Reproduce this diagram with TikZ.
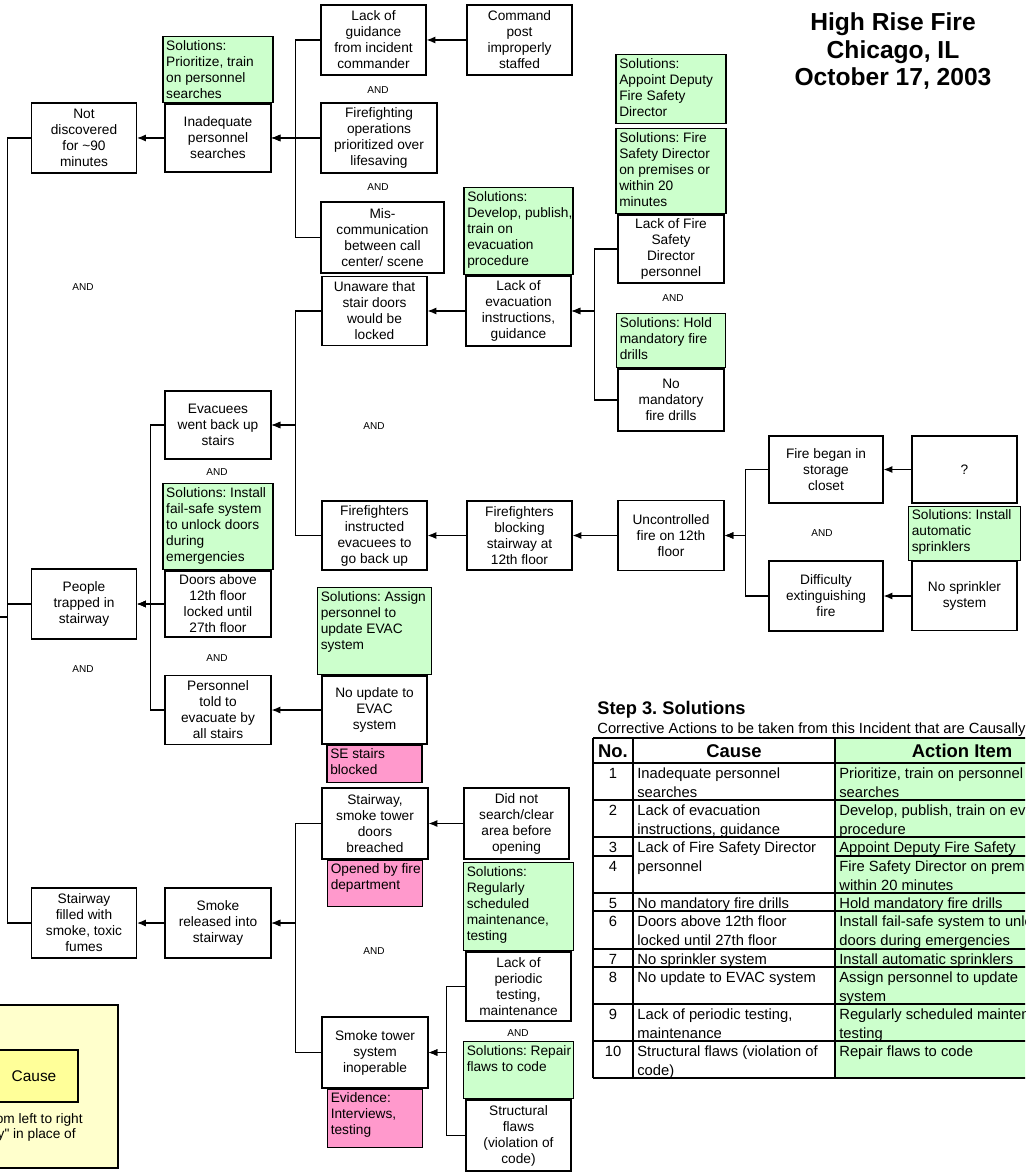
\documentclass[tikz,border=0pt]{standalone}
\usepackage{fontspec}
\setmainfont{Liberation Sans}
\usetikzlibrary{positioning,arrows.meta}
\definecolor{solGreen}{HTML}{CCFFCC}
\definecolor{evidPink}{HTML}{FF99CC}
\definecolor{legendPale}{HTML}{FFFFCC}
\definecolor{legendYellow}{HTML}{FFFF99}
\newcommand{\boxfont}{\fontsize{7.8}{9.1}\selectfont}
\newcommand{\tabfont}{\fontsize{8.4}{10.3}\selectfont}
\newcommand{\andfont}{\fontsize{5.7}{6.5}\selectfont}
\frenchspacing

\begin{document}
\begin{tikzpicture}
[x=0.02cm,y=-0.02cm,
  causeArrow/.style={->,>={Latex[length=5pt,width=4pt]},line width=0.6pt},%
  busLine/.style={line width=0.6pt},%
  causeBox/.style={shape=rectangle,draw,line width=0.7pt,fill=white,align=center,inner sep=1pt,font=\boxfont},%
  solBox/.style={shape=rectangle,draw,line width=0.7pt,fill=solGreen,inner sep=0pt},%
  evidBox/.style={solBox,fill=evidPink},%
  solText/.style={anchor=north west,align=left,inner xsep=0.07cm,inner ysep=0.08cm,font=\boxfont},%
  andLabel/.style={font=\andfont,inner sep=0pt},%
  tabText/.style={anchor=base west,font=\tabfont,inner sep=0pt},%
  tabHead/.style={font=\bfseries\fontsize{10.5}{12}\selectfont,inner sep=0pt},%
  tabRule/.style={line width=0.6pt}]
\useasboundingbox (0,0) rectangle (1025,1175);
\clip (0,0) rectangle (1025,1175);

%% cause boxes
\foreach \nodename/\x/\y/\w/\h/\txt in {
  notdisc/84/138/2.1/1.4/{Not\\discovered\\for \textasciitilde 90\\minutes},
  inadeq/218/138/2.12/1.36/{Inadequate\\personnel\\searches},
  lackguid/373.5/40/2.1/1.4/{Lack of\\guidance\\from incident\\commander},
  cmdpost/519.5/40/2.1/1.4/{Command\\post\\improperly\\staffed},
  ffops/379/138/2.32/1.4/{Firefighting\\operations\\prioritized over\\lifesaving},
  miscomm/382.5/237.5/2.46/1.42/{Mis-\\communication\\between call\\center/ scene},
  unaware/374.5/311/2.1/1.38/{Unaware that\\stair doors\\would be\\locked},
  lackevac/518.5/311/2.1/1.4/{Lack of\\evacuation\\instructions,\\guidance},
  lackfsd/671/249/2.12/1.36/{Lack of Fire\\Safety\\Director\\personnel},
  nodrills/671/400/2.12/1.24/{No\\mandatory\\fire drills},
  evacback/218/425/2.12/1.36/{Evacuees\\went back up\\stairs},
  ffinstr/374.5/535.5/2.1/1.38/{Firefighters\\instructed\\evacuees to\\go back up},
  ffblock/519.5/535.5/2.1/1.38/{Firefighters\\blocking\\stairway at\\12th floor},
  uncontr/671/535.5/2.12/1.4/{Uncontrolled\\fire on 12th\\floor},
  firebegan/826/469.5/2.28/1.34/{Fire began in\\storage\\closet},
  question/964.5/469.5/2.1/1.34/{?},
  difficulty/826/596/2.28/1.4/{Difficulty\\extinguishing\\fire},
  nosprink/964.5/596/2.1/1.38/{No sprinkler\\system},
  doors/218/604/2.12/1.32/{Doors above\\12th floor\\locked until\\27th floor},
  trapped/84/604/2.1/1.4/{People\\trapped in\\stairway},
  personnel/218/710/2.12/1.38/{Personnel\\told to\\evacuate by\\all stairs},
  noupdate/374.5/710/2.1/1.36/{No update to\\EVAC\\system},
  breached/375/823.5/2.12/1.42/{Stairway,\\smoke tower\\doors\\breached},
  didnot/516.5/823.5/2.1/1.42/{Did not\\search/clear\\area before\\opening},
  smokerel/218/923/2.12/1.4/{Smoke\\released into\\stairway},
  stairfill/84/923/2.1/1.4/{Stairway\\filled with\\smoke, toxic\\fumes},
  towerinop/375/1052.5/2.12/1.42/{Smoke tower\\system\\inoperable},
  periodic/518.5/986.5/2.1/1.38/{Lack of\\periodic\\testing,\\maintenance},
  structural/518.5/1135.5/2.1/1.42/{Structural\\flaws\\(violation of\\code)}}
{
  \node[causeBox,minimum width=\w cm,minimum height=\h cm] (\nodename) at (\x,\y) {\txt};
}
\coordinate (topevent) at (0,617);

%% solutions and evidence boxes
\node[solBox,minimum width=2.2cm,minimum height=1.32cm,above=0pt of inadeq] (solA) {};
\node[solText] (solAtxt) at (solA.north west) {Solutions:\\Prioritize, train\\on personnel\\searches};
\node[solBox,minimum width=2.18cm,minimum height=1.74cm,above=0pt of lackevac] (solB) {};
\node[solText] (solBtxt) at (solB.north west) {Solutions:\\Develop, publish,\\train on\\evacuation\\procedure};
\node[solBox,minimum width=2.2cm,minimum height=1.7cm,above=0pt of lackfsd] (solD) {};
\node[solText] (solDtxt) at (solD.north west) {Solutions: Fire\\Safety Director\\on premises or\\within 20\\minutes};
\node[solBox,minimum width=2.2cm,minimum height=1.38cm,above=0.08cm of solD] (solC) {};
\node[solText] (solCtxt) at (solC.north west) {Solutions:\\Appoint Deputy\\Fire Safety\\Director};
\node[solBox,minimum width=2.18cm,minimum height=1.08cm,above=0pt of nodrills] (solE) {};
\node[solText] (solEtxt) at (solE.north west) {Solutions: Hold\\mandatory fire\\drills};
\node[solBox,minimum width=2.2cm,minimum height=1.72cm,above=0pt of doors] (solF) {};
\node[solText] (solFtxt) at (solF.north west) {Solutions: Install\\fail-safe system\\to unlock doors\\during\\emergencies};
\node[solBox,minimum width=2.24cm,minimum height=1.08cm,above=0pt of nosprink] (solG) {};
\node[solText] (solGtxt) at (solG.north west) {Solutions: Install\\automatic\\sprinklers};
\node[solBox,minimum width=2.28cm,minimum height=1.74cm,above=0pt of noupdate] (solH) {};
\node[solText] (solHtxt) at (solH.north west) {Solutions: Assign\\personnel to\\update EVAC\\system};
\node[solBox,minimum width=2.2cm,minimum height=1.76cm,above=0pt of periodic] (solI) {};
\node[solText] (solItxt) at (solI.north west) {Solutions:\\Regularly\\scheduled\\maintenance,\\testing};
\node[solBox,minimum width=2.2cm,minimum height=1.14cm,above=0pt of structural] (solJ) {};
\node[solText] (solJtxt) at (solJ.north west) {Solutions: Repair\\flaws to code};
\node[evidBox,minimum width=1.9cm,minimum height=0.74cm,below=0pt of noupdate] (evSE) {};
\node[solText] (evSEtxt) at (evSE.north west) {SE stairs\\blocked};
\node[evidBox,minimum width=1.9cm,minimum height=0.92cm,below=0pt of breached] (evOpen) {};
\node[solText] (evOpentxt) at (evOpen.north west) {Opened by fire\\department};
\node[evidBox,minimum width=1.9cm,minimum height=1.16cm,below=0pt of towerinop] (evTest) {};
\node[solText] (evTesttxt) at (evTest.north west) {Evidence:\\Interviews,\\testing};

%% AND gates
\foreach \x/\y [count=\i] in {83/287, 378/90, 378/187, 673/298, 374/426, 217/472,
  217/658, 83/669, 822/533, 374/951, 518/1033}
{
  \node[andLabel] (and\i) at (\x,\y) {AND};
}

%% connectors
\draw[causeArrow] (cmdpost) -- (lackguid);
\foreach \kid in {lackguid,ffops,miscomm}
  \draw[causeArrow] (\kid.west) -- ++(-25,0) |- (inadeq.east);
\draw[causeArrow] (inadeq) -- (notdisc);
\foreach \kid in {lackfsd,nodrills}
  \draw[causeArrow] (\kid.west) -- ++(-23,0) |- (lackevac.east);
\draw[causeArrow] (lackevac) -- (unaware);
\draw[causeArrow] (question) -- (firebegan);
\draw[causeArrow] (nosprink) -- (difficulty);
\foreach \kid in {firebegan,difficulty}
  \draw[causeArrow] (\kid.west) -- ++(-23,0) |- (uncontr.east);
\draw[causeArrow] (uncontr) -- (ffblock);
\draw[causeArrow] (ffblock) -- (ffinstr);
\foreach \kid in {unaware,ffinstr}
  \draw[causeArrow] (\kid.west) -- ++(-26,0) |- (evacback.east);
\draw[causeArrow] (noupdate) -- (personnel);
\foreach \kid in {evacback,doors,personnel}
  \draw[causeArrow] (\kid.west) -- ++(-14,0) |- (trapped.east);
\draw[causeArrow] (didnot) -- (breached);
\foreach \kid in {periodic,structural}
  \draw[causeArrow] (\kid.west) -- ++(-19,0) |- (towerinop.east);
\foreach \kid in {breached,towerinop}
  \draw[causeArrow] (\kid.west) -- ++(-26,0) |- (smokerel.east);
\draw[causeArrow] (smokerel) -- (stairfill);
\foreach \kid in {notdisc,trapped,stairfill}
  \draw[busLine] (\kid.west) -- ++(-23.5,0) |- (topevent);

%% title
\node[align=center,inner sep=0pt,font=\bfseries\fontsize{14}{15.9}\selectfont] (title) at (893,51)
  {High Rise Fire\\Chicago, IL\\October 17, 2003};

%% legend
\draw[line width=0.8pt,fill=legendPale] (-2,1005) rectangle (118,1168);
\draw[line width=0.8pt,fill=legendYellow] (-2,1050) rectangle (78,1102);
\node[inner sep=0pt,font=\fontsize{8.8}{10}\selectfont] (legCause) at (34,1076) {Cause};
\node[anchor=base east,inner sep=0pt,font=\boxfont] (legLineA) at (83,1123) {om left to right};
\node[anchor=base east,inner sep=0pt,font=\boxfont] (legLineB) at (76,1138) {y\textquotedbl{} in place of};

%% solutions table
\node[anchor=base west,inner sep=0pt,font=\bfseries\fontsize{10.4}{12}\selectfont] (stepTitle) at (597,714) {Step 3. Solutions};
\node[tabText] (stepSub) at (597,733) {Corrective Actions to be taken from this Incident that are Causally};
\fill[solGreen] (835,738) rectangle (1030,1078);
\foreach \y in {738,763,800,837,893,911,949,967,1004,1041,1078}
  \draw[tabRule] (593,\y) -- (1030,\y);
\draw[tabRule] (593,856) -- (633,856) (835,856) -- (1030,856);
\foreach \x in {593,633,835}
  \draw[line width=0.8pt] (\x,738) -- (\x,1078);
\node[tabHead] (headNo) at (613,751) {No.};
\node[tabHead] (headCause) at (734,751) {Cause};
\node[tabHead] (headAction) at (962,751) {Action Item};
\foreach \num/\y/\causeA/\causeB/\actA/\actB [count=\i] in {
  1/763/Inadequate personnel/searches/{Prioritize, train on personnel}/searches,
  2/800/Lack of evacuation/{instructions, guidance}/{Develop, publish, train on ev}/procedure,
  3/837/Lack of Fire Safety Director/personnel/Appoint Deputy Fire Safety/{},
  4/856/{}/{}/Fire Safety Director on prem/within 20 minutes,
  5/893/No mandatory fire drills/{}/Hold mandatory fire drills/{},
  6/911/Doors above 12th floor/locked until 27th floor/Install fail-safe system to unlo/doors during emergencies,
  7/949/No sprinkler system/{}/Install automatic sprinklers/{},
  8/967/No update to EVAC system/{}/Assign personnel to update/system,
  9/1004/{Lack of periodic testing,}/maintenance/Regularly scheduled mainten/testing,
  10/1041/Structural flaws (violation of/code)/Repair flaws to code/{}}
{
  \node[tabText,anchor=base] (no\i) at (613,\y+15.5) {\num};
  \node[tabText] (causeA\i) at (637,\y+15.5) {\causeA};
  \node[tabText] (causeB\i) at (637,\y+34) {\causeB};
  \node[tabText] (actA\i) at (839,\y+15.5) {\actA};
  \node[tabText] (actB\i) at (839,\y+34) {\actB};
}
\end{tikzpicture}
\end{document}
